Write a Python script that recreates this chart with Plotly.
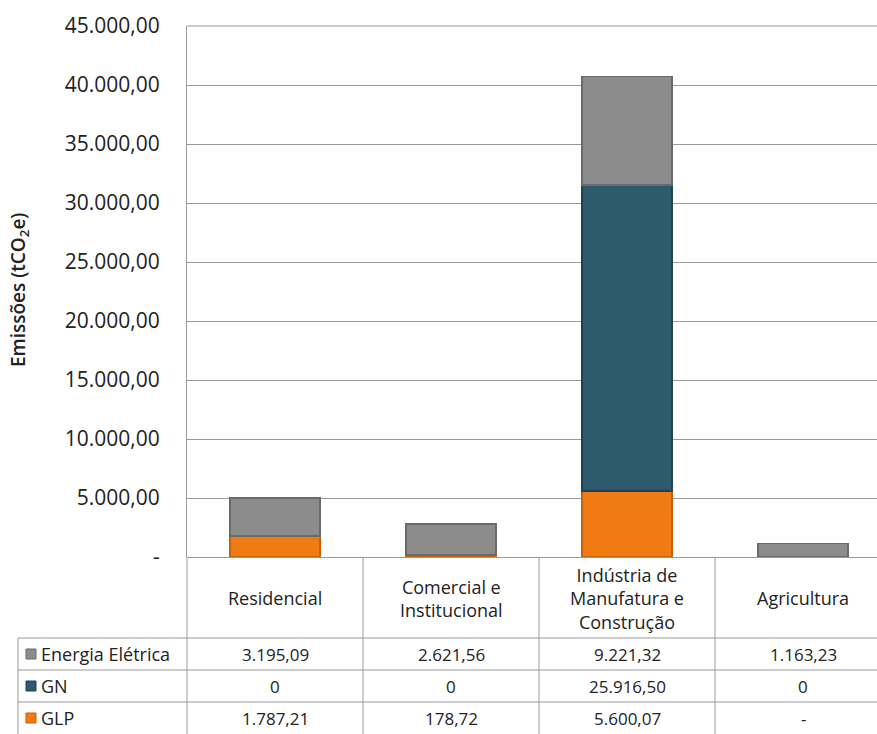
import plotly.graph_objects as go

# ---------------- data ----------------
categories = ["Residencial", "Comercial e Institucional",
              "Indústria de Manufatura e Construção", "Agricultura"]
category_labels = ["Residencial", "Comercial e<br>Institucional",
                   "Indústria de<br>Manufatura e<br>Construção", "Agricultura"]
series_names = ["Energia Elétrica", "GN", "GLP"]
energia_eletrica = [3195.09, 2621.56, 9221.32, 1163.23]
gn = [0, 0, 25916.50, 0]
glp = [1787.21, 178.72, 5600.07, None]
y_tickvals = [0, 5000, 10000, 15000, 20000, 25000, 30000, 35000, 40000, 45000]
y_ticktext = ["-", "5.000,00", "10.000,00", "15.000,00", "20.000,00",
              "25.000,00", "30.000,00", "35.000,00", "40.000,00", "45.000,00"]

# ---------------- style ----------------
W, H = 877, 734
L, T, B = 187, 26, 557          # plot area left, top, bottom (pixels)
PW = W - L
PH = B - T
CAT_PX = 176                      # pixels per category
FONT = "Open Sans"
TXT = "#222222"
GRID = "#9a9a9a"
colors = {"Energia Elétrica": "#8c8c8c", "GN": "#2e5a6d", "GLP": "#f07b12"}
edges = {"Energia Elétrica": "#6a6a6a", "GN": "#1f4252", "GLP": "#c9600a"}


def fmt(v):
    if v is None:
        return "-"
    if v == 0:
        return "0"
    s = f"{v:,.2f}"
    return s.replace(",", "X").replace(".", ",").replace("X", ".")


def px(x):
    return (x - L) / PW


def py(y):
    return (B - y) / PH


xs = list(range(len(categories)))
series_vals = {"Energia Elétrica": energia_eletrica, "GN": gn, "GLP": glp}

fig = go.Figure()
for name in ["GLP", "GN", "Energia Elétrica"]:
    vals = [0 if v is None else v for v in series_vals[name]]
    fig.add_trace(go.Bar(
        x=xs, y=vals, name=name, width=0.51,
        marker=dict(color=colors[name], line=dict(color=edges[name], width=1.5)),
        hoverinfo="skip", showlegend=False,
    ))

shapes = []
annotations = []

# vertical line continuing the y axis down through table
shapes.append(dict(type="line", xref="paper", yref="paper",
                   x0=0, x1=0, y0=py(B), y1=py(H + 5),
                   line=dict(color=GRID, width=1)))
# top border line
shapes.append(dict(type="line", xref="paper", yref="paper",
                   x0=0, x1=1, y0=1, y1=1, line=dict(color=GRID, width=1.2)))
# category separators in the table
n = len(categories)
for i in range(1, n + 1):
    shapes.append(dict(type="line", xref="x", yref="paper",
                       x0=i - 0.5, x1=i - 0.5, y0=py(B), y1=py(H + 5),
                       line=dict(color=GRID, width=1)))
# table row lines
row_tops = [638, 670, 702]
for yy in row_tops:
    shapes.append(dict(type="line", xref="paper", yref="paper",
                       x0=px(18), x1=1, y0=py(yy), y1=py(yy),
                       line=dict(color=GRID, width=1)))
shapes.append(dict(type="line", xref="paper", yref="paper",
                   x0=px(18), x1=px(18), y0=py(638), y1=py(H + 5),
                   line=dict(color=GRID, width=1)))

# header labels
for i, lab in enumerate(category_labels):
    annotations.append(dict(x=i, y=py(598), xref="x", yref="paper",
                            text=lab, showarrow=False,
                            font=dict(family=FONT, size=18, color=TXT),
                            xanchor="center", yanchor="middle"))

# rows
for r, name in enumerate(series_names):
    yc = row_tops[r] + 16
    # legend key
    shapes.append(dict(type="rect", xref="paper", yref="paper",
                       x0=px(26), x1=px(36), y0=py(yc + 5), y1=py(yc - 5),
                       fillcolor=colors[name], line=dict(color=edges[name], width=1)))
    annotations.append(dict(x=px(39), y=py(yc), xref="paper", yref="paper",
                            text=name, showarrow=False,
                            font=dict(family=FONT, size=18, color=TXT),
                            xanchor="left", yanchor="middle"))
    for i, v in enumerate(series_vals[name]):
        annotations.append(dict(x=i, y=py(yc), xref="x", yref="paper",
                                text=fmt(v), showarrow=False,
                                font=dict(family=FONT, size=17, color=TXT),
                                xanchor="center", yanchor="middle"))

# y-axis title
annotations.append(dict(x=px(19), y=py(290), xref="paper", yref="paper",
                        text="Emissões (tCO<sub>2</sub>e)", textangle=-90,
                        showarrow=False,
                        font=dict(family=FONT, size=19, color=TXT, weight=600),
                        xanchor="center", yanchor="middle"))

fig.update_layout(
    width=W, height=H,
    margin=dict(l=L, r=0, t=T, b=H - B, pad=0),
    paper_bgcolor="white", plot_bgcolor="white",
    barmode="stack",
    shapes=shapes, annotations=annotations,
    xaxis=dict(range=[-0.5, -0.5 + PW / CAT_PX], showticklabels=False,
               showgrid=False, zeroline=False, showline=False, fixedrange=True),
    yaxis=dict(range=[0, 45000], tickvals=y_tickvals, ticktext=y_ticktext,
               showgrid=True, gridcolor=GRID, gridwidth=1,
               zeroline=True, zerolinecolor=GRID, zerolinewidth=1,
               showline=True, linecolor=GRID, linewidth=1,
               ticks="", ticklabelstandoff=22,
               tickfont=dict(family=FONT, size=21, color=TXT), fixedrange=True),
    bargap=0.49,
)

fig.write_html("out.html")
